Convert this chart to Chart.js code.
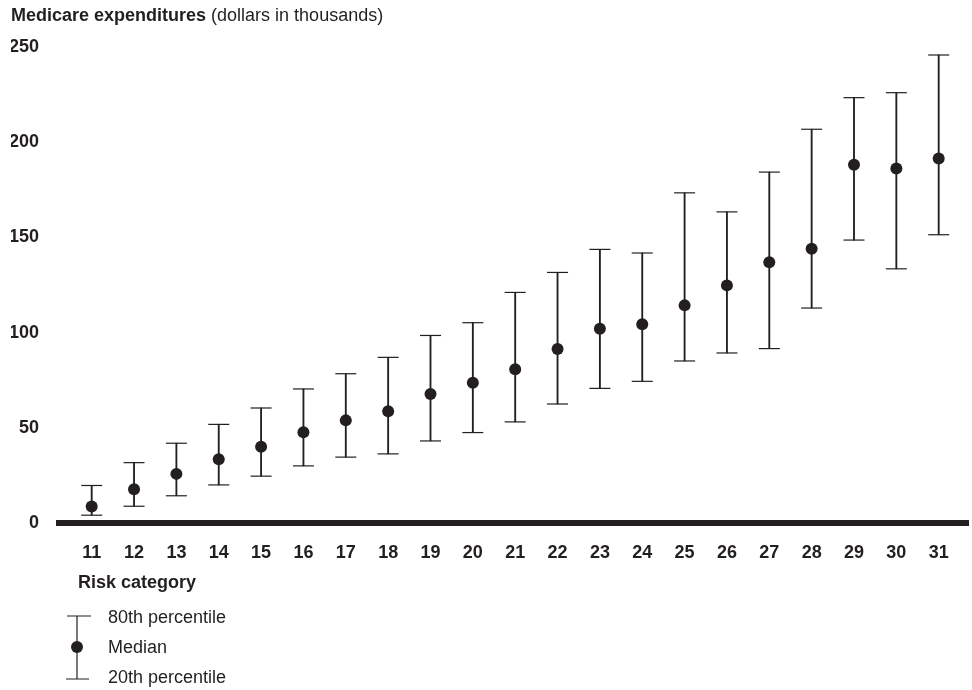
<!DOCTYPE html>
<html>
<head>
<meta charset="utf-8">
<title>Medicare expenditures by risk category</title>
<script src="https://cdn.jsdelivr.net/npm/chart.js@4/dist/chart.umd.min.js"></script>
<style>
  html, body { margin: 0; padding: 0; background: #fff; }
  canvas { display: block; }
</style>
</head>
<body>
<canvas id="chart" width="972" height="690"></canvas>
<script>
// Data (dollars in thousands)
const categories = [11, 12, 13, 14, 15, 16, 17, 18, 19, 20, 21, 22, 23, 24, 25, 26, 27, 28, 29, 30, 31];
const p80 = [19.7, 31.7, 41.9, 51.8, 60.4, 70.4, 78.4, 87.0, 98.5, 105.2, 121.1, 131.6, 143.7, 141.8, 173.4, 163.4, 184.3, 206.8, 223.4, 226.0, 245.8];
const median = [8.7, 17.7, 25.8, 33.5, 40.1, 47.7, 53.9, 58.7, 67.8, 73.7, 80.7, 91.4, 102.0, 104.4, 114.3, 124.8, 137.0, 144.0, 188.1, 186.2, 191.4];
const p20 = [4.1, 8.8, 14.3, 20.0, 24.6, 30.0, 34.6, 36.3, 43.1, 47.5, 53.1, 62.5, 70.7, 74.4, 85.1, 89.3, 91.6, 112.9, 148.6, 133.5, 151.4];
const yTicks = [0, 50, 100, 150, 200, 250];

const INK = '#231f20';
const FONT = '"Liberation Sans", Arial, Helvetica, sans-serif';

// Title, axis caption and the key are plain text drawn on the canvas
const annotations = {
  id: 'annotations',
  afterDraw(chart) {
    const ctx = chart.ctx;
    ctx.save();
    ctx.fillStyle = INK;
    ctx.textBaseline = 'middle';
    ctx.textAlign = 'left';

    ctx.font = 'bold 18px ' + FONT;
    const head = 'Medicare expenditures';
    ctx.fillText(head, 11, 16);
    const w = ctx.measureText(head).width;
    ctx.font = '18px ' + FONT;
    ctx.fillText(' (dollars in thousands)', 11 + w, 16);

    ctx.font = 'bold 18px ' + FONT;
    ctx.fillText('Risk category', 78, 583);

    // key
    ctx.strokeStyle = INK;
    ctx.lineWidth = 1.2;
    ctx.beginPath();
    ctx.moveTo(77, 616); ctx.lineTo(77, 679);
    ctx.moveTo(67, 616); ctx.lineTo(91, 616);
    ctx.moveTo(66, 679); ctx.lineTo(89, 679);
    ctx.stroke();
    ctx.beginPath();
    ctx.arc(77, 647, 6, 0, Math.PI * 2);
    ctx.fill();

    ctx.font = '18px ' + FONT;
    ctx.fillText('80th percentile', 108, 618);
    ctx.fillText('Median', 108, 648);
    ctx.fillText('20th percentile', 108, 678);
    ctx.restore();
  }
};

const stems = categories.map((c, i) => ({ x: c, y: [p20[i], p80[i]] }));
const highCaps = categories.map((c, i) => ({ x: c, y: p80[i] }));
const lowCaps = categories.map((c, i) => ({ x: c, y: p20[i] }));
const medians = categories.map((c, i) => ({ x: c, y: median[i] }));

new Chart(document.getElementById('chart'), {
  type: 'scatter',
  data: {
    datasets: [
      {
        type: 'bar',
        label: 'range',
        data: stems,
        backgroundColor: INK,
        barThickness: 1.2,
        order: 3
      },
      {
        label: '80th percentile',
        data: highCaps,
        pointStyle: 'line',
        radius: 10.5,
        borderColor: INK,
        borderWidth: 1.2,
        order: 2
      },
      {
        label: '20th percentile',
        data: lowCaps,
        pointStyle: 'line',
        radius: 10.5,
        borderColor: INK,
        borderWidth: 1.2,
        order: 2
      },
      {
        label: 'Median',
        data: medians,
        pointStyle: 'circle',
        radius: 6,
        backgroundColor: INK,
        borderColor: INK,
        borderWidth: 0,
        order: 1
      }
    ]
  },
  options: {
    responsive: false,
    animation: false,
    events: [],
    layout: {
      autoPadding: false,
      padding: { left: 11, top: 47, right: 4, bottom: 126 }
    },
    plugins: {
      legend: { display: false },
      tooltip: { enabled: false },
      title: { display: false }
    },
    scales: {
      x: {
        type: 'linear',
        offset: false,
        min: 10.228,
        max: 31.692,
        afterBuildTicks: (scale) => {
          scale.ticks = categories.map(v => ({ value: v }));
        },
        afterFit: (scale) => { scale.height = 41; },
        grid: { display: false, drawTicks: false, offset: false },
        border: { display: true, width: 6, color: INK },
        ticks: {
          autoSkip: false,
          maxRotation: 0,
          padding: 19,
          color: INK,
          font: { family: FONT, size: 18, weight: 'bold' },
          callback: (v) => String(v)
        }
      },
      y: {
        min: 0,
        max: 250,
        afterBuildTicks: (scale) => {
          scale.ticks = yTicks.map(v => ({ value: v }));
        },
        afterFit: (scale) => { scale.width = 48; },
        grid: { display: false, drawTicks: false },
        border: { display: false },
        ticks: {
          padding: 20,
          color: INK,
          font: { family: FONT, size: 18, weight: 'bold' }
        }
      }
    }
  },
  plugins: [annotations]
});
</script>
</body>
</html>
